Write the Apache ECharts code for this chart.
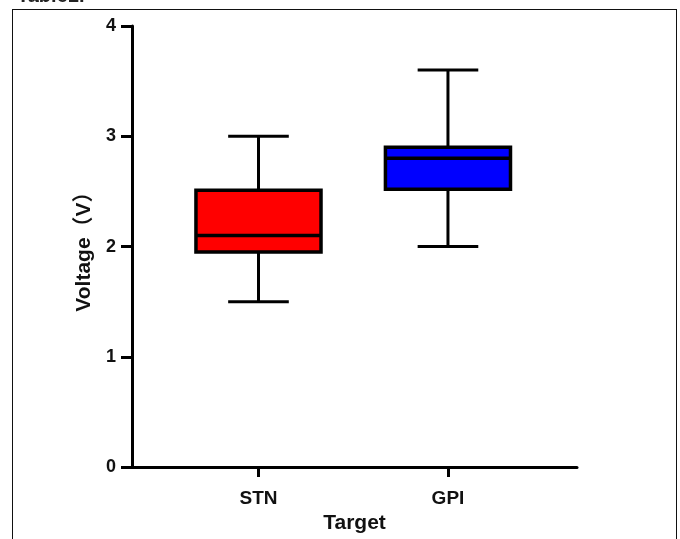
<!DOCTYPE html>
<html>
<head>
<meta charset="utf-8">
<script src="https://cdn.jsdelivr.net/npm/echarts@6/dist/echarts.min.js"></script>
<style>
  html, body { margin: 0; padding: 0; background: #fff; }
  #wrap { position: relative; width: 680px; height: 539px; overflow: hidden; }
  #chart { position: absolute; left: 0; top: 0; width: 680px; height: 539px; }
  #frame { position: absolute; left: 12px; top: 9px; width: 663px; height: 560px; border: 1px solid #111; pointer-events: none; }
</style>
</head>
<body>
<div id="wrap">
  <div id="chart"></div>
  <div id="frame"></div>
</div>
<script>
// ---- data ----
const categories = ['STN', 'GPI'];
const categoryPos = [1, 2];
const boxMin    = [1.5, 2.0];
const boxQ1     = [1.95, 2.52];
const boxMedian = [2.1, 2.8];
const boxQ3     = [2.51, 2.9];
const boxMax    = [3.0, 3.6];
const boxColors = ['#ff0000', '#0000ff'];
const yTicks = [0, 1, 2, 3, 4];

const seriesData = categories.map((c, i) => ({
  name: c,
  value: [categoryPos[i], boxMin[i], boxQ1[i], boxMedian[i], boxQ3[i], boxMax[i]],
  itemStyle: { color: boxColors[i] }
}));

const BOX_W = 0.66;   // in x-axis units
const CAP_W = 0.32;
const LW = 3;

function renderBox(params, api) {
  const x = api.value(0);
  const pMin = api.coord([x, api.value(1)]);
  const pQ1 = api.coord([x, api.value(2)]);
  const pMed = api.coord([x, api.value(3)]);
  const pQ3 = api.coord([x, api.value(4)]);
  const pMax = api.coord([x, api.value(5)]);
  const bw = api.size([BOX_W, 0])[0];
  const cw = api.size([CAP_W, 0])[0];
  const cx = pMed[0];
  const color = boxColors[params.dataIndex];
  const line = (x1, y1, x2, y2, w) => ({
    type: 'line',
    shape: { x1, y1, x2, y2 },
    style: { stroke: '#000', lineWidth: w || LW }
  });
  return {
    type: 'group',
    children: [
      line(cx, pMax[1], cx, pQ3[1]),
      line(cx, pQ1[1], cx, pMin[1]),
      line(cx - cw / 2, pMax[1], cx + cw / 2, pMax[1]),
      line(cx - cw / 2, pMin[1], cx + cw / 2, pMin[1]),
      {
        type: 'rect',
        shape: { x: cx - bw / 2, y: pQ3[1], width: bw, height: pQ1[1] - pQ3[1] },
        style: { fill: color, stroke: '#000', lineWidth: 3.5 }
      },
      line(cx - bw / 2, pMed[1], cx + bw / 2, pMed[1], 3.5)
    ]
  };
}

const chart = echarts.init(document.getElementById('chart'), null, { renderer: 'canvas' });
const FONT = 'Liberation Sans, Arial, Noto Sans CJK SC, sans-serif';
chart.setOption({
  animation: false,
  backgroundColor: '#fff',
  title: {
    text: 'Table1.',
    left: 17,
    top: -14,
    padding: 0,
    textStyle: { fontFamily: FONT, fontSize: 20, fontWeight: 'bold', color: '#222' }
  },
  grid: { left: 132, right: 103, top: 26, bottom: 71 },
  xAxis: {
    type: 'value',
    min: 0.3325,
    max: 2.681,
    name: 'Target',
    nameLocation: 'middle',
    nameGap: 40,
    nameTextStyle: { fontFamily: FONT, fontSize: 21, fontWeight: 'bold', color: '#111' },
    axisLine: { show: true, lineStyle: { color: '#000', width: 3 } },
    axisTick: { show: true, length: 10, lineStyle: { color: '#000', width: 3 }, customValues: categoryPos },
    axisLabel: {
      customValues: categoryPos,
      margin: 22,
      fontFamily: FONT, fontSize: 19, fontWeight: 'bold', color: '#111',
      formatter: v => categories[categoryPos.indexOf(v)] || ''
    },
    splitLine: { show: false }
  },
  yAxis: {
    type: 'value',
    min: yTicks[0],
    max: yTicks[yTicks.length - 1],
    interval: 1,
    name: 'Voltage（V）',
    nameLocation: 'middle',
    nameGap: 37,
    nameRotate: 90,
    nameTextStyle: { fontFamily: FONT, fontSize: 21, fontWeight: 'bold', color: '#111' },
    axisLine: { show: true, lineStyle: { color: '#000', width: 3 } },
    axisTick: { show: true, length: 11, lineStyle: { color: '#000', width: 3 } },
    axisLabel: { margin: 16, fontFamily: FONT, fontSize: 18, fontWeight: 'bold', color: '#111' },
    splitLine: { show: false }
  },
  series: [{
    type: 'custom',
    renderItem: renderBox,
    encode: { x: 0, y: [1, 2, 3, 4, 5] },
    data: seriesData
  }]
});
</script>
</body>
</html>
